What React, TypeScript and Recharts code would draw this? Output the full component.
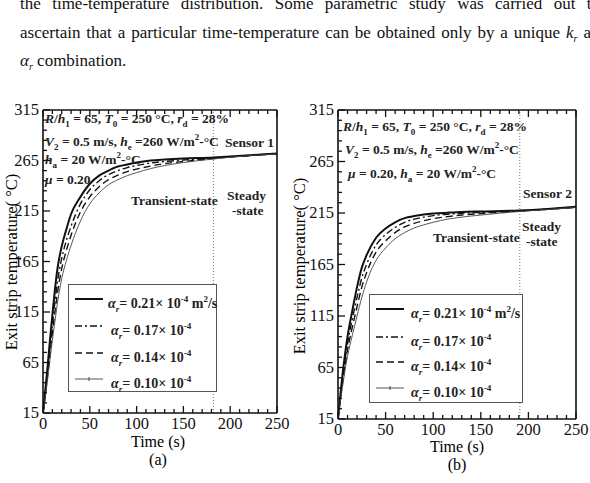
import React from 'react'
import { LineChart, Line, XAxis, YAxis, ReferenceLine } from 'recharts'

// time samples (s)
const timeA = [0, 2.5, 5, 7.5, 10, 12.5, 15, 20, 25, 30, 40, 50, 60, 70, 80, 90, 100, 115, 130, 150, 182, 200, 225, 250]
const timeB = [0, 5, 10, 15, 20, 25, 30, 40, 50, 60, 70, 80, 90, 100, 115, 130, 150, 191, 220, 250]

// panel (a), sensor 1
const a021 = [15, 38, 62, 88, 112, 135, 155, 180, 197, 212, 229, 242, 250, 255, 259, 261, 263, 265, 266, 267, 268, 269, 270.5, 272]
const a017 = [15, 35, 57, 80, 102, 123, 142, 168, 186, 200, 222, 236, 245, 251, 255, 258, 260, 262.5, 264, 265.5, 267.5, 268.7, 270.3, 271.8]
const a014 = [15, 33, 53, 74, 94, 113, 131, 158, 176, 191, 214, 229, 239, 246, 250.5, 254, 256.5, 259.5, 262, 264, 267, 268.5, 270.2, 271.7]
const a010 = [15, 31, 49, 68, 87, 104, 121, 148, 166, 181, 205, 222, 233, 241, 246, 250, 253, 257, 260, 263, 266.5, 268.3, 270, 271.6]

// panel (b), sensor 2
const b021 = [15, 60, 95, 120, 143, 162, 174, 191, 200, 206, 210, 212, 213.5, 214.5, 215.3, 216, 216.5, 217.5, 219, 221]
const b017 = [15, 56, 88, 112, 133, 152, 165, 184, 194, 201, 206, 209, 211, 212.5, 213.8, 214.8, 215.6, 217.2, 218.8, 220.8]
const b014 = [15, 52, 82, 104, 124, 143, 157, 177, 188, 196, 201.5, 205, 207.5, 209.5, 211.5, 213, 214.5, 217, 218.6, 220.6]
const b010 = [15, 48, 76, 96, 115, 133, 148, 169, 181, 190, 196, 200.5, 203.5, 206, 209, 211, 213, 216.5, 218.4, 220.4]

const xMajor = [0, 50, 100, 150, 200, 250]
const yMajor = [15, 65, 115, 165, 215, 265, 315]
const xTicks = [0, 10, 20, 30, 40, 50, 60, 70, 80, 90, 100, 110, 120, 130, 140, 150, 160, 170, 180, 190, 200, 210, 220, 230, 240, 250]
const yTicks = [15, 25, 35, 45, 55, 65, 75, 85, 95, 105, 115, 125, 135, 145, 155, 165, 175, 185, 195, 205, 215, 225, 235, 245, 255, 265, 275, 285, 295, 305, 315]

const alphaLabels = ['0.21', '0.17', '0.14', '0.10']
const keys = ['s021', 's017', 's014', 's010']

const styles = [
  { dash: undefined, width: 2, color: '#111' },
  { dash: '7 3 2 3', width: 1.4, color: '#111' },
  { dash: '7 4', width: 1.4, color: '#111' },
  { dash: undefined, width: 0.9, color: '#444' }
]

const rowsA = timeA.map((t, i) => ({ t, s021: a021[i], s017: a017[i], s014: a014[i], s010: a010[i] }))
const rowsB = timeB.map((t, i) => ({ t, s021: b021[i], s017: b017[i], s014: b014[i], s010: b010[i] }))

const serif = 'Liberation Serif'

const BottomTick = (p: any) => {
  const major = xMajor.includes(p.payload.value)
  return (
    <g>
      <line x1={p.x} x2={p.x} y1={p.y} y2={p.y - (major ? 7 : 4)} stroke='#111' strokeWidth={1.3} />
      {major && <text x={p.x} y={p.y + 16} textAnchor='middle' fontSize={16.5} fontFamily={serif} fill='#111'>{p.payload.value}</text>}
    </g>
  )
}
const TopTick = (p: any) => {
  const major = xMajor.includes(p.payload.value)
  return <line x1={p.x} x2={p.x} y1={p.y} y2={p.y + (major ? 7 : 4)} stroke='#111' strokeWidth={1.3} />
}
const LeftTick = (p: any) => {
  const major = yMajor.includes(p.payload.value)
  return (
    <g>
      <line x1={p.x} x2={p.x + (major ? 7 : 4)} y1={p.y} y2={p.y} stroke='#111' strokeWidth={1.3} />
      {major && <text x={p.x - 4} y={p.y + 5} textAnchor='end' fontSize={16.5} fontFamily={serif} fill='#111'>{p.payload.value}</text>}
    </g>
  )
}
const RightTick = (p: any) => {
  const major = yMajor.includes(p.payload.value)
  return <line x1={p.x} x2={p.x - (major ? 7 : 4)} y1={p.y} y2={p.y} stroke='#111' strokeWidth={1.3} />
}

const txt = (left: number, top: number, content: React.ReactNode, size = 13.5, bold = true) => (
  <div style={{ position: 'absolute', left, top, fontSize: size, fontWeight: bold ? 'bold' : 'normal', fontFamily: serif, whiteSpace: 'nowrap', lineHeight: 1, color: '#222' }}>{content}</div>
)
const sub = (s: string) => <sub style={{ fontSize: 9, verticalAlign: -4 }}>{s}</sub>
const sup = (s: string) => <sup style={{ fontSize: 9, verticalAlign: 6 }}>{s}</sup>

function Panel ({ rows, left, width, margin, steady }: any) {
  return (
    <div style={{ position: 'absolute', left, top: 0 }}>
      <LineChart width={width} height={483} data={rows} margin={margin}>
        <XAxis dataKey='t' type='number' domain={[0, 250]} ticks={xTicks} height={1} tickSize={0} tickMargin={0} tick={<BottomTick />} axisLine={{ stroke: '#111', strokeWidth: 1.6 }} interval={0} allowDataOverflow />
        <XAxis xAxisId='top' orientation='top' dataKey='t' type='number' domain={[0, 250]} ticks={xTicks} height={1} tickSize={0} tickMargin={0} tick={<TopTick />} axisLine={{ stroke: '#111', strokeWidth: 1.6 }} interval={0} />
        <YAxis type='number' domain={[15, 315]} ticks={yTicks} width={1} tickSize={0} tickMargin={0} tick={<LeftTick />} axisLine={{ stroke: '#111', strokeWidth: 1.6 }} interval={0} allowDataOverflow />
        <YAxis yAxisId='right' orientation='right' type='number' domain={[15, 315]} ticks={yTicks} width={1} tickSize={0} tickMargin={0} tick={<RightTick />} axisLine={{ stroke: '#111', strokeWidth: 1.6 }} interval={0} />
        <ReferenceLine x={steady} stroke='#777' strokeDasharray='1 2' strokeWidth={1} />
        {keys.map((k, i) => (
          <Line key={k} dataKey={k} type='monotone' dot={false} stroke={styles[i].color} strokeWidth={styles[i].width} strokeDasharray={styles[i].dash} isAnimationActive={false} />
        ))}
      </LineChart>
    </div>
  )
}

function LegendBox ({ left, top, width, height, rowYs, sampleX, textX }: any) {
  return (
    <div style={{ position: 'absolute', left, top, width, height, border: '1px solid #555', background: '#fff', boxSizing: 'border-box' }}>
      {alphaLabels.map((a, i) => (
        <div key={a} style={{ position: 'absolute', left: 0, top: rowYs[i] - top - 8, height: 16, width: width - 2 }}>
          <svg width={30} height={16} style={{ position: 'absolute', left: sampleX - left }}>
            <line x1={0} x2={28} y1={8} y2={8} stroke={styles[i].color} strokeWidth={styles[i].width} strokeDasharray={styles[i].dash} />
            {i === 3 && <line x1={14} x2={14} y1={6} y2={10} stroke='#444' strokeWidth={1} />}
          </svg>
          <div style={{ position: 'absolute', left: textX[i] - left, top: 0, fontSize: 14, fontWeight: 'bold', fontFamily: serif, whiteSpace: 'nowrap', color: '#222', lineHeight: '16px' }}>
            <i>α</i><sub style={{ fontSize: 9, verticalAlign: -4 }}><i>r</i></sub>= {a}× 10<sup style={{ fontSize: 9, verticalAlign: 6 }}>-4</sup>
            {i === 0 && <span> m<sup style={{ fontSize: 9, verticalAlign: 6 }}>2</sup>/s</span>}
          </div>
        </div>
      ))}
    </div>
  )
}

export default function App () {
  const line = { position: 'absolute' as const, left: 20, width: 580, fontSize: 17, fontFamily: serif, textAlign: 'justify' as const, textAlignLast: 'justify' as const, whiteSpace: 'nowrap' as const, lineHeight: 1, color: '#111' }
  return (
    <div style={{ position: 'fixed', left: 0, top: 0, width: 590, height: 483, overflow: 'hidden', background: '#fff' }}>
      <div style={{ ...line, top: -5, whiteSpace: 'normal' }}>the time-temperature distribution. Some parametric study was carried out to</div>
      <div style={{ ...line, top: 24, whiteSpace: 'normal', width: 588 }}>ascertain that a particular time-temperature can be obtained only by a unique <i>k<sub style={{ fontSize: 10 }}>r</sub></i> and</div>
      <div style={{ ...line, top: 52, textAlignLast: 'left' }}><i>α<sub style={{ fontSize: 10 }}>r</sub></i> combination.</div>

      <Panel rows={rowsA} left={0} width={290} margin={{ top: 109, right: 12, bottom: 69, left: 42 }} steady={182} />
      <Panel rows={rowsB} left={290} width={300} margin={{ top: 109, right: 13, bottom: 63, left: 47 }} steady={191} />

      {/* axis titles */}
      <div style={{ position: 'absolute', left: 12, top: 262, transform: 'translate(-50%, -50%) rotate(-90deg)', fontSize: 16.5, fontFamily: serif, whiteSpace: 'nowrap' }}>Exit strip temperature( °C)</div>
      <div style={{ position: 'absolute', left: 300, top: 266, transform: 'translate(-50%, -50%) rotate(-90deg)', fontSize: 16.5, fontFamily: serif, whiteSpace: 'nowrap' }}>Exit strip temperature( °C)</div>
      <div style={{ position: 'absolute', left: 158, top: 442, transform: 'translate(-50%, -50%)', fontSize: 16, fontFamily: serif, whiteSpace: 'nowrap', lineHeight: 1 }}>Time (s)</div>
      <div style={{ position: 'absolute', left: 158, top: 460, transform: 'translate(-50%, -50%)', fontSize: 16, fontFamily: serif, lineHeight: 1 }}>(a)</div>
      <div style={{ position: 'absolute', left: 457, top: 447, transform: 'translate(-50%, -50%)', fontSize: 16, fontFamily: serif, whiteSpace: 'nowrap', lineHeight: 1 }}>Time (s)</div>
      <div style={{ position: 'absolute', left: 457, top: 465, transform: 'translate(-50%, -50%)', fontSize: 16, fontFamily: serif, lineHeight: 1 }}>(b)</div>

      {/* panel (a) notes */}
      {txt(45, 112, <span><i>R</i>/<i>h</i>{sub('1')} = 65, <i>T</i>{sub('0')} = 250 °C, <i>r</i>{sub('d')} = 28%</span>)}
      {txt(45, 133, <span><i>V</i>{sub('2')} = 0.5 m/s, <i>h</i>{sub('e')} =260 W/m{sup('2')}-°C</span>)}
      {txt(225, 136, 'Sensor 1')}
      {txt(45, 151, <span><i>h</i>{sub('a')} = 20 W/m{sup('2')}-°C</span>)}
      {txt(45, 173, <span><i>μ</i> = 0.20</span>)}
      {txt(131, 194, 'Transient-state')}
      {txt(227, 189, 'Steady')}
      {txt(232, 204, '-state')}

      {/* panel (b) notes */}
      {txt(343, 120, <span><i>R</i>/<i>h</i>{sub('1')} = 65, <i>T</i>{sub('0')} = 250 °C, <i>r</i>{sub('d')} = 28%</span>)}
      {txt(345, 141, <span><i>V</i>{sub('2')} = 0.5 m/s, <i>h</i>{sub('e')} =260 W/m{sup('2')}-°C</span>)}
      {txt(348, 165, <span><i>μ</i> = 0.20, <i>h</i>{sub('a')} = 20 W/m{sup('2')}-°C</span>)}
      {txt(523, 187, 'Sensor 2')}
      {txt(433, 231, 'Transient-state')}
      {txt(522, 220, 'Steady')}
      {txt(526, 235, '-state')}

      <LegendBox left={68} top={284} width={149} height={108} rowYs={[298, 325, 352, 378]} sampleX={74} textX={[107, 110, 110, 110]} />
      <LegendBox left={369} top={294} width={154} height={109} rowYs={[308, 336, 361, 387]} sampleX={375} textX={[410, 410, 410, 410]} />
    </div>
  )
}
